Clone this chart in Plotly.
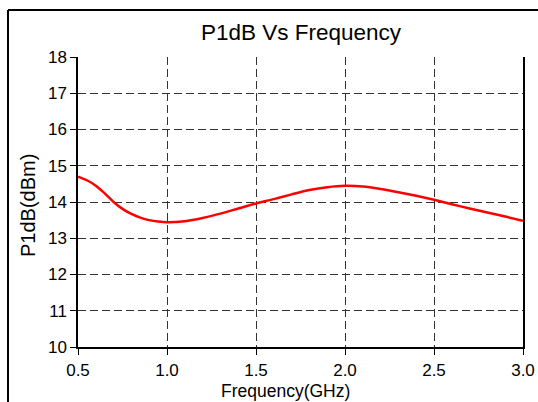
import plotly.graph_objects as go

# P1dB measured across the band
freq_ghz = [0.5, 0.55, 0.6, 0.65, 0.7, 0.75, 0.8, 0.85, 0.9, 0.95, 1.0, 1.1,
            1.2, 1.3, 1.4, 1.5, 1.6, 1.7, 1.8, 1.9, 2.0, 2.1, 2.2, 2.3, 2.4,
            2.5, 2.6, 2.7, 2.8, 2.9, 3.0]
p1db_dbm = [14.70, 14.60, 14.45, 14.24, 14.0, 13.81, 13.67, 13.57, 13.5, 13.46,
            13.44, 13.47, 13.56, 13.68, 13.82, 13.96, 14.08, 14.21, 14.33, 14.41,
            14.45, 14.43, 14.36, 14.27, 14.17, 14.06, 13.94, 13.82, 13.71, 13.6,
            13.48]

x_ticks = [0.5, 1.0, 1.5, 2.0, 2.5, 3.0]
x_tick_text = ["0.5", "1.0", "1.5", "2.0", "2.5", "3.0"]
y_ticks = list(range(10, 19))

FONT = "Liberation Sans, Arial, sans-serif"

fig = go.Figure()
fig.add_trace(go.Scatter(
    x=freq_ghz, y=p1db_dbm, mode="lines",
    line=dict(color="#ff0000", width=2.5, shape="spline", smoothing=0.8),
    showlegend=False, hoverinfo="skip",
))

grid_style = dict(showgrid=True, gridcolor="#333333", gridwidth=1, griddash="8px,4px")

fig.update_layout(
    width=538, height=402,
    margin=dict(l=78, r=15, t=57, b=55, autoexpand=False),
    paper_bgcolor="white", plot_bgcolor="white",
    font=dict(family=FONT, color="black", size=17),
    title=dict(text="P1dB Vs Frequency", x=301 / 538, xanchor="center",
               y=1 - 32 / 402, yanchor="middle",
               font=dict(family=FONT, size=22.5, color="black")),
    xaxis=dict(range=[0.5, 3.0], tickvals=x_ticks, ticktext=x_tick_text,
               ticks="outside", ticklen=6, tickcolor="black", tickwidth=1,
               showline=True, linecolor="black", linewidth=1.5,
               zeroline=False, tickfont=dict(size=17), ticklabelstandoff=1,
               automargin=False, **grid_style),
    yaxis=dict(range=[10, 18], tickvals=y_ticks,
               ticks="outside", ticklen=6, tickcolor="black", tickwidth=1,
               showline=True, linecolor="black", linewidth=1.5, mirror=True,
               zeroline=False, tickfont=dict(size=17), automargin=False,
               **grid_style),
)

# Axis titles placed as annotations
fig.add_annotation(text="Frequency(GHz)", xref="paper", yref="paper",
                   x=(285 - 78) / 445, y=(347 - 391) / 290,
                   xanchor="center", yanchor="middle", showarrow=False,
                   font=dict(family=FONT, size=17.5, color="black"))
fig.add_annotation(text="P1dB(dBm)", xref="paper", yref="paper",
                   x=(28 - 78) / 445, y=(347 - 206) / 290, textangle=-90,
                   xanchor="center", yanchor="middle", showarrow=False,
                   font=dict(family=FONT, size=20, color="black"))

# Outer frame: left and top edges
x_left = (8 - 78) / 445
y_top = (347 - 10) / 290
fig.add_shape(type="line", xref="paper", yref="paper",
              x0=x_left, x1=x_left, y0=y_top, y1=-0.3,
              line=dict(color="black", width=2))
fig.add_shape(type="line", xref="paper", yref="paper",
              x0=x_left, x1=1.2, y0=y_top, y1=y_top,
              line=dict(color="black", width=2))

fig.write_html("out.html")
